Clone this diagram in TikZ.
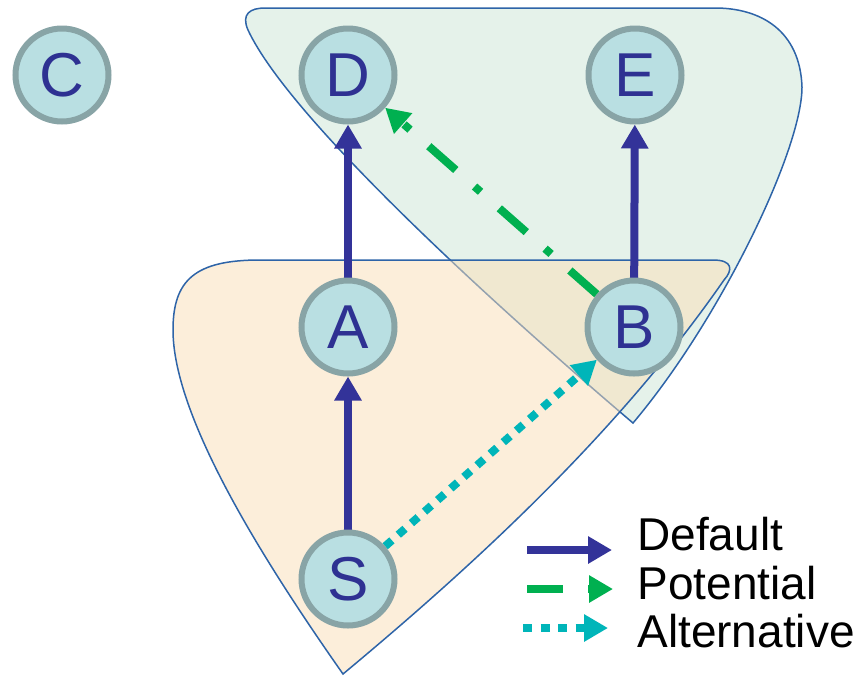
\documentclass[tikz,border=0pt]{standalone}
\usepackage{fontspec}
\setmainfont{Liberation Sans}
\usetikzlibrary{arrows.meta,backgrounds}

\definecolor{vertexfill}{HTML}{B9DFE2}
\definecolor{vertexline}{HTML}{88A4A6}
\definecolor{vertextext}{HTML}{2E3192}
\definecolor{defaultcol}{HTML}{333399}
\definecolor{potentialcol}{HTML}{00B050}
\definecolor{alternativecol}{HTML}{00B5B9}
\definecolor{regionline}{HTML}{2E64A8}
\definecolor{upperfill}{HTML}{E5F2EA}
\definecolor{lowerfill}{HTML}{FBDFB7}

\tikzset{
  vertex/.style={circle,fill=vertexfill,draw=vertexline,line width=3pt,
    minimum size=46.5pt,inner sep=0pt,text=vertextext,
    font=\fontsize{31}{36}\selectfont},
  edgetip/.style={-{Triangle[length=12pt,width=13pt]}},
  defaultarrow/.style={edgetip,defaultcol,line width=4pt},
  potentialarrow/.style={edgetip,potentialcol,line width=4pt,
    dash pattern=on 18pt off 12.5pt on 4pt off 12.5pt},
  alternativearrow/.style={edgetip,alternativecol,line width=4pt,
    dash pattern=on 4.5pt off 4.25pt},
  region/.style={draw=regionline,line width=0.75pt},
  legendtext/.style={anchor=base west,inner sep=0pt,
    font=\fontsize{23}{27}\selectfont}
}

\begin{document}
\begin{tikzpicture}[x=0.5pt,y=-0.5pt]
  \useasboundingbox (0,0) rectangle (862,676);

  % the two regions
  \begin{pgfonlayer}{background}
    \fill[white] (0,0) rectangle (862,676);
    \path[region,fill=upperfill] (633,423)
      .. controls (500,310) and (290,120) .. (248,30)
      .. controls (241,14) and (250,8) .. (265,8) -- (715,8)
      .. controls (760,8) and (800,30) .. (802,87)
      .. controls (802,150) and (720,320) .. (633,423) -- cycle;
    \path[region,fill=lowerfill,fill opacity=0.5] (343,674)
      .. controls (270,570) and (173,420) .. (173,330)
      .. controls (173,280) and (195,260) .. (260,260) -- (713,260)
      .. controls (733,260) and (733,270) .. (724,280)
      .. controls (620,430) and (480,560) .. (343,674) -- cycle;
  \end{pgfonlayer}

  \node [vertex] (C) at (62,75)   {C};
  \node [vertex] (D) at (348,75)  {D};
  \node [vertex] (E) at (635,75)  {E};
  \node [vertex] (A) at (348,327) {A};
  \node [vertex] (B) at (634,327) {B};
  \node [vertex] (S) at (348,579) {S};

  % edges go under the vertices
  \begin{pgfonlayer}{background}
    \draw [defaultarrow,shorten <=-3pt] (S) -- (A);
    \draw [defaultarrow,shorten <=-3pt] (A) -- (D);
    \draw [defaultarrow,shorten <=-3pt] (B) -- (E);
    \draw [potentialarrow] (B) -- (D);
    \draw [alternativearrow] (S) -- (B);
  \end{pgfonlayer}

  % legend
  \coordinate (def from) at (527,550);
  \coordinate (def to)   at (612,550);
  \coordinate (pot from) at (527,589);
  \coordinate (pot to)   at (613,589);
  \coordinate (alt from) at (523,628);
  \coordinate (alt to)   at (608,628);
  \draw [defaultarrow] (def from) -- (def to);
  \draw [potentialarrow] (pot from) -- (pot to);
  \draw [alternativearrow] (alt from) -- (alt to);
  \node [legendtext] (def label) at (637,550) {Default};
  \node [legendtext] (pot label) at (637,599) {Potential};
  \node [legendtext] (alt label) at (637,647) {Alternative};
\end{tikzpicture}
\end{document}
